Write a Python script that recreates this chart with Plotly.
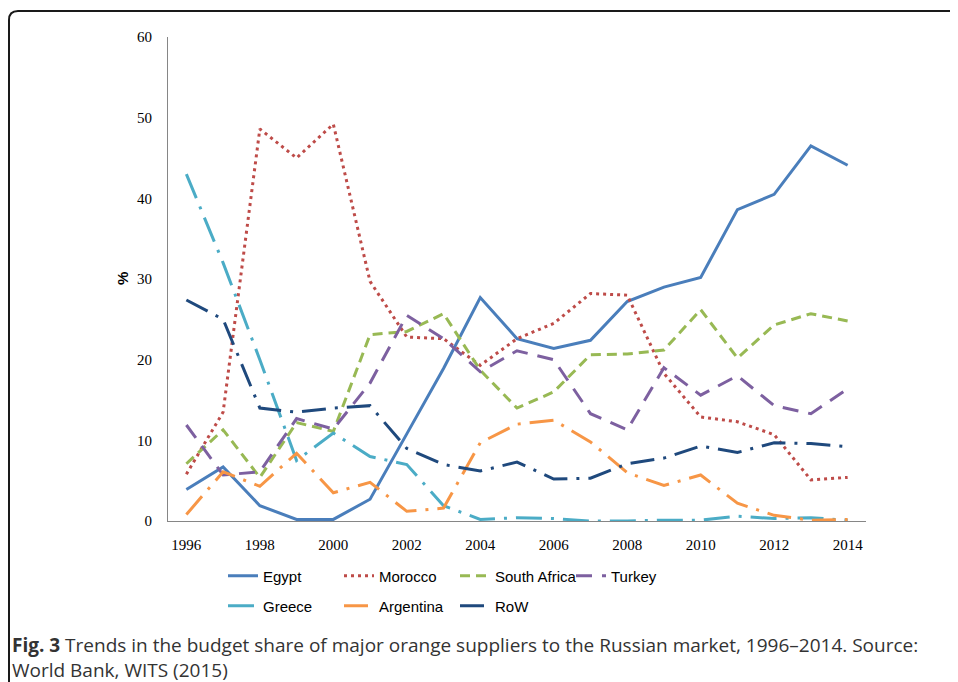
import plotly.graph_objects as go

years = list(range(1996, 2015))
egypt = [3.9, 6.7, 1.9, 0.2, 0.2, 2.7, 10.8, 18.9, 27.7, 22.6, 21.4, 22.4, 27.2, 29.0, 30.2, 38.6, 40.5, 46.5, 44.1]
morocco = [5.8, 13.5, 48.6, 45.0, 49.2, 29.7, 22.8, 22.6, 19.3, 22.6, 24.5, 28.2, 28.0, 18.3, 12.9, 12.3, 10.7, 5.1, 5.4]
south_africa = [7.1, 11.3, 5.4, 12.2, 11.1, 23.1, 23.5, 25.7, 18.7, 14.0, 16.0, 20.6, 20.7, 21.2, 26.2, 20.2, 24.3, 25.7, 24.8]
turkey = [11.9, 5.7, 6.1, 12.7, 11.4, 17.1, 25.5, 22.6, 18.5, 21.1, 20.0, 13.3, 11.3, 19.0, 15.6, 18.0, 14.3, 13.3, 16.4]
greece = [43.0, 32.0, 20.0, 7.5, 10.9, 8.0, 7.0, 1.9, 0.2, 0.4, 0.3, 0.0, 0.0, 0.1, 0.1, 0.6, 0.3, 0.4, 0.1]
argentina = [0.8, 6.1, 4.3, 8.4, 3.5, 4.8, 1.2, 1.6, 9.7, 12.0, 12.5, 9.8, 6.0, 4.4, 5.7, 2.2, 0.7, 0.1, 0.2]
row = [27.4, 25.0, 14.0, 13.5, 14.0, 14.3, 9.0, 7.0, 6.2, 7.3, 5.2, 5.3, 7.1, 7.8, 9.3, 8.5, 9.7, 9.6, 9.2]

x_ticks = list(range(1996, 2015, 2))
y_ticks = [0, 10, 20, 30, 40, 50, 60]

caption = ("<b>Fig. 3</b> Trends in the budget share of major orange suppliers to the Russian market, 1996–2014. Source:"
           "<br>World Bank, WITS (2015)")

# page body has an 8px margin; compensate so the screenshot lines up
OFF = 8
W, H = 958 - OFF, 682 - OFF
L, R, T, B = 168 - OFF, 866 - OFF, 37 - OFF, 521 - OFF

def px(xs):
    return ((xs - OFF) - L) / (R - L)

def py(ys):
    return (B - (ys - OFF)) / (B - T)

series = [
    ("Egypt", egypt, "#4A7EBB", "solid", "legend"),
    ("Morocco", morocco, "#BE4B48", "3px,4px", "legend"),
    ("South Africa", south_africa, "#98B954", "10px,6px", "legend"),
    ("Turkey", turkey, "#7D60A0", "16px,10px", "legend"),
    ("Greece", greece, "#4BACC6", "26px,9px,3px,9px", "legend2"),
    ("Argentina", argentina, "#F79646", "24px,9px,3px,9px", "legend2"),
    ("RoW", row, "#1F497D", "24px,9px,3px,9px", "legend2"),
]

fig = go.Figure()
for name, vals, color, dash, lg in series:
    fig.add_trace(go.Scatter(
        x=years, y=vals, name=name, mode="lines",
        line=dict(color=color, width=3, dash=dash),
        legend=lg,
    ))

legend_common = dict(
    orientation="h", xanchor="left", yanchor="middle",
    font=dict(family="Liberation Sans, Arial, sans-serif", size=15, color="#000"),
    bgcolor="rgba(0,0,0,0)", entrywidth=71, entrywidthmode="pixels",
    tracegroupgap=0, itemwidth=30,
)

cap_font = dict(family="Open Sans, Noto Sans, sans-serif", size=19, color="#333")

fig.update_layout(
    width=W, height=H,
    margin=dict(l=L, r=W - R, t=T, b=H - B, autoexpand=False),
    paper_bgcolor="white", plot_bgcolor="white",
    showlegend=True,
    legend=dict(x=px(223), y=py(576), **legend_common),
    legend2=dict(x=px(223), y=py(606), **legend_common),
    xaxis=dict(
        range=[1995.5, 2014.5], tickmode="array", tickvals=x_ticks,
        ticktext=[str(v) for v in x_ticks],
        showline=True, linecolor="#868686", linewidth=1,
        showgrid=False, zeroline=False,
        ticks="outside", ticklen=10, tickcolor="rgba(0,0,0,0)",
        tickfont=dict(family="Liberation Serif, Times New Roman, serif", size=15, color="#000"),
        automargin=False,
    ),
    yaxis=dict(
        range=[0, 60], tickmode="array", tickvals=y_ticks,
        showline=True, linecolor="#868686", linewidth=1,
        showgrid=False, zeroline=False,
        ticks="outside", ticklen=12, tickcolor="rgba(0,0,0,0)",
        tickfont=dict(family="Liberation Serif, Times New Roman, serif", size=15, color="#000"),
        automargin=False,
    ),
    annotations=[
        dict(text="<b>%</b>", xref="paper", yref="paper", x=px(122), y=py(279),
             showarrow=False, textangle=-90, xanchor="center", yanchor="middle",
             font=dict(family="Liberation Sans, Arial, sans-serif", size=15, color="#000")),
        dict(text=caption, xref="paper", yref="paper", x=px(11), y=py(657),
             showarrow=False, xanchor="left", yanchor="middle", align="left",
             borderpad=0, font=cap_font),
    ],
    shapes=[
        dict(type="path", xref="paper", yref="paper",
             path=f"M {px(9)},{py(700)} L {px(9)},{py(20)} Q {px(9)},{py(11)} {px(18)},{py(11)} L {px(975)},{py(11)}",
             line=dict(color="#1a1a1a", width=2)),
    ],
)

fig.write_html("out.html")
